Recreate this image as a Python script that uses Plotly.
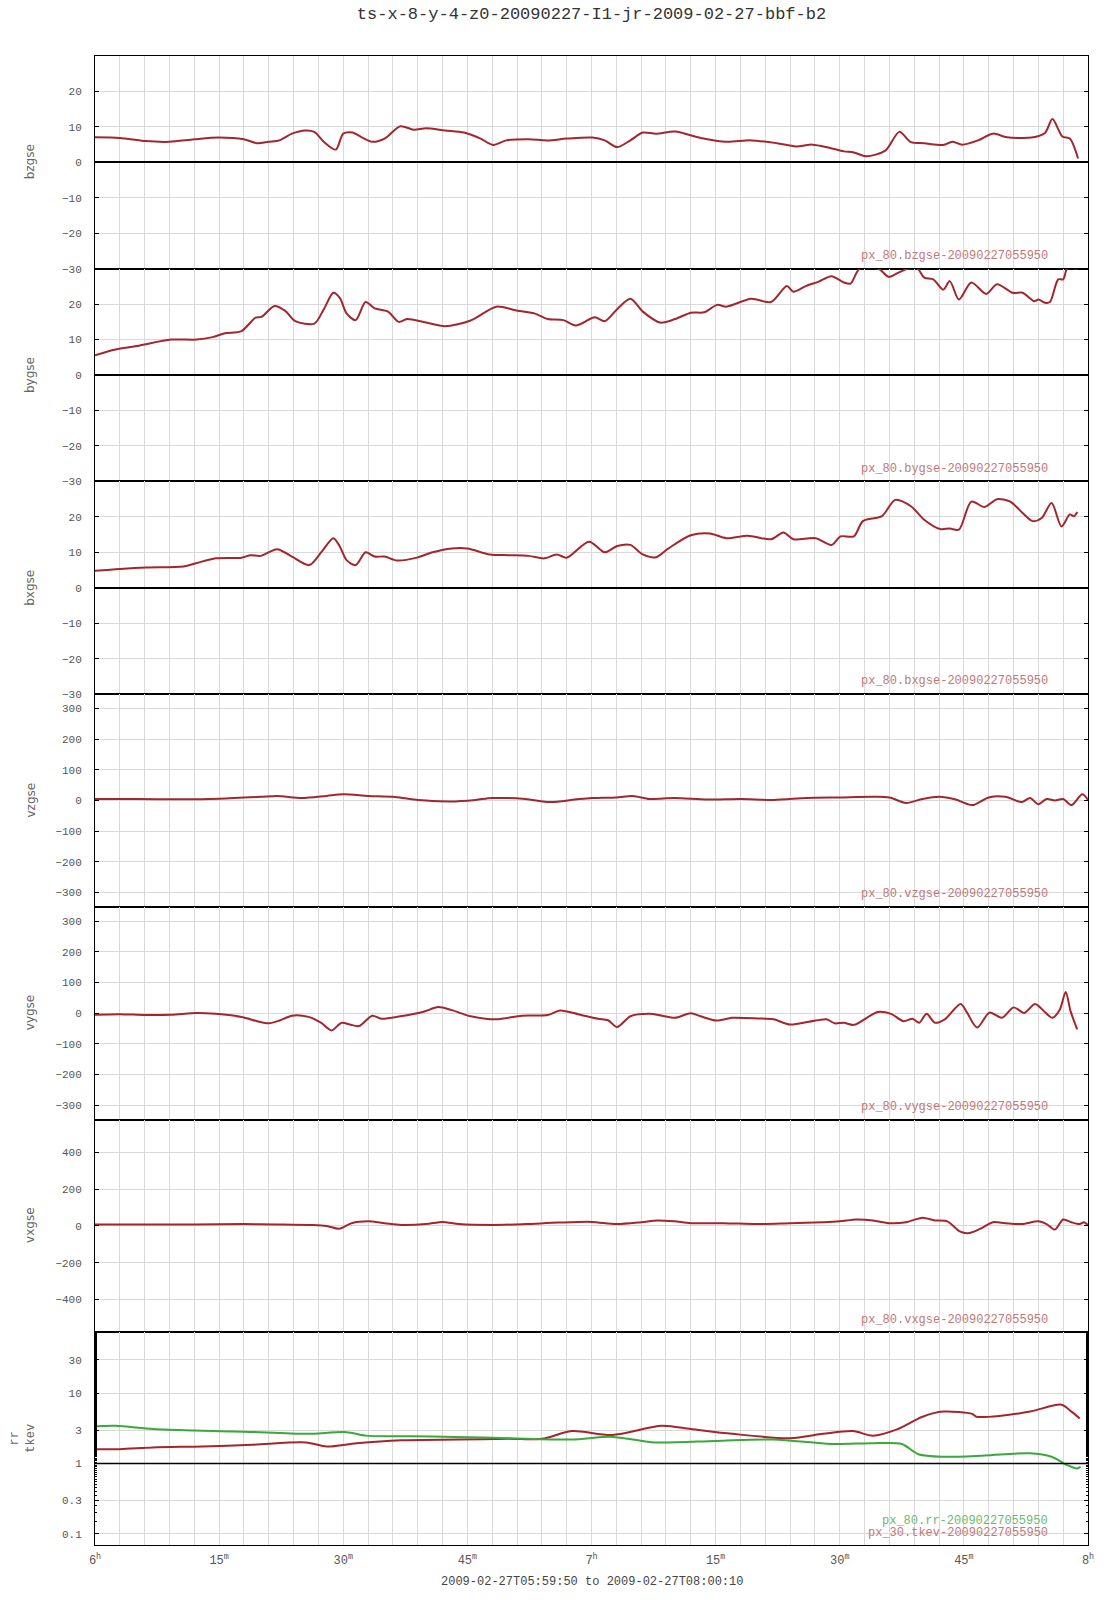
import plotly.graph_objects as go
from plotly.subplots import make_subplots

# ---------------- data (time in minutes after 06:00 UT) ----------------
bz_t = [0, 3.0, 6.1, 9.0, 12.0, 15.0, 18.0, 19.6, 21.0, 22.3, 23.8, 25.4, 26.5, 27.7, 29.1, 30.0, 31.1,
        32.3, 33.5, 35.0, 36.9, 38.5, 40.0, 42.3, 44.6, 46.6, 48.1, 49.7, 52.4, 54.7, 57.0, 60.1, 61.6,
        63.1, 64.7, 66.2, 67.8, 70.1, 73.2, 76.3, 79.3, 82.4, 84.7, 86.7, 88.6, 90.5, 91.7, 93.2, 95.5,
        97.2, 98.6, 100.2, 102.5, 103.6, 104.8, 106.7, 108.5, 110.2, 113.2, 114.8, 115.7, 116.9, 117.8, 118.8]
bz_v = [7.1, 6.9, 6.0, 5.8, 6.5, 7.0, 6.5, 5.4, 5.8, 6.2, 8.1, 9.0, 8.6, 5.7, 3.6, 8.1, 8.4,
        7.0, 5.8, 6.7, 10.2, 9.2, 9.6, 9.0, 8.4, 6.7, 4.9, 6.2, 6.5, 6.2, 6.7, 7.0, 6.2,
        4.3, 6.2, 8.4, 8.1, 8.7, 6.9, 5.8, 6.2, 5.4, 4.5, 5.0, 4.2, 3.1, 2.8, 1.7, 3.3,
        8.6, 5.7, 5.4, 4.9, 5.8, 5.0, 6.2, 8.1, 7.1, 7.0, 8.3, 12.2, 7.3, 6.7, 1.1]

by_t = [0, 2.2, 5.3, 9.2, 12.3, 14.2, 15.7, 17.7, 19.4, 20.1, 21.7, 23.0, 24.2, 26.5, 27.7, 28.8,
        29.6, 30.4, 31.5, 32.7, 33.8, 35.4, 36.7, 37.7, 40.0, 42.3, 45.4, 48.5, 50.8, 53.1, 54.7,
        56.6, 58.1, 60.4, 61.6, 63.1, 64.7, 66.2, 68.3, 70.1, 72.0, 73.6, 75.2, 76.3, 79.3, 81.7,
        83.6, 84.4, 85.9, 87.4, 89.0, 90.5, 91.3, 92.4, 94.7, 95.9, 97.1, 98.2, 99.4, 100.2, 101.3,
        102.5, 103.3, 104.4, 105.9, 107.7, 109.0, 110.9, 112.1, 113.5, 114.0, 114.8, 115.4, 116.4,
        117.0, 117.5, 118.7]
by_v = [5.6, 7.1, 8.3, 10.0, 10.0, 10.7, 11.8, 12.4, 16.2, 16.4, 19.5, 18.1, 15.2, 14.5, 18.8, 23.2,
        21.7, 17.4, 15.5, 20.6, 18.8, 17.9, 15.0, 15.8, 14.8, 13.8, 15.4, 19.3, 18.3, 17.4, 15.8,
        15.5, 14.0, 16.3, 15.2, 18.6, 21.5, 17.9, 14.8, 15.8, 17.6, 17.7, 19.8, 19.3, 21.5, 20.6,
        25.1, 23.5, 25.1, 26.3, 27.9, 26.1, 25.8, 30.0, 30.0, 27.7, 28.9, 30.0, 30.0, 27.5, 27.0,
        24.1, 26.5, 21.3, 26.1, 22.9, 25.6, 23.2, 23.2, 20.8, 21.3, 20.4, 20.6, 27.0,
        27.0, 30.0, 30.0]

bx_t = [0, 3.0, 6.1, 10.7, 12.3, 14.6, 17.7, 18.8, 20.0, 22.0, 23.8, 25.9, 27.4, 28.8, 29.6, 30.4,
        31.5, 32.7, 33.8, 35.0, 36.5, 38.9, 40.8, 43.1, 45.0, 47.7, 50.0, 52.4, 54.3, 55.8, 57.0,
        59.7, 61.6, 63.1, 64.7, 66.2, 67.8, 69.3, 72.0, 74.3, 76.3, 78.9, 81.7, 83.2, 84.4, 87.1,
        89.0, 90.1, 91.7, 92.8, 95.1, 96.7, 98.6, 100.2, 102.1, 103.3, 104.4, 105.9, 107.5, 109.0,
        110.6, 112.1, 113.3, 114.4, 115.6, 116.8, 117.8, 118.3, 118.7]
bx_v = [4.8, 5.3, 5.7, 6.0, 7.0, 8.3, 8.5, 9.2, 9.0, 10.9, 8.8, 6.4, 10.2, 14.0, 11.6, 7.8,
        6.4, 10.0, 8.8, 8.8, 7.7, 8.5, 10.0, 11.1, 11.1, 9.4, 9.2, 9.0, 8.3, 9.4, 8.5,
        13.0, 10.0, 11.8, 12.1, 9.4, 8.6, 11.1, 14.8, 15.3, 14.0, 14.7, 13.7, 15.6, 13.7, 14.0,
        12.1, 14.5, 14.5, 18.8, 20.2, 24.8, 23.0, 19.2, 16.6, 16.7, 16.4, 24.3, 22.8, 25.0,
        24.3, 21.1, 18.8, 19.7, 23.9, 17.3, 20.7, 20.2, 21.4]

vz_t = [0, 5, 10, 15, 20, 22, 25, 28, 30, 33, 36, 38, 40, 43, 46, 48, 52, 55, 58, 60, 63, 65, 67,
        70, 74, 78, 82, 86, 90, 94, 96, 98, 100, 102, 104, 106, 108, 110, 112, 113, 114, 115, 116,
        117, 118, 119.3, 120]
vz_v = [5, 5, 4, 6, 12, 15, 8, 15, 20, 15, 12, 5, 0, -3, 2, 8, 5, -5, 3, 8, 10, 15, 5,
        8, 3, 5, 2, 8, 10, 12, 10, -8, 5, 12, 3, -15, 10, 12, -5, 8, -12, 5, 0,
        5, -15, 20, 2]

vy_t = [0, 3.0, 6.1, 9.2, 12.3, 14.6, 17.7, 19.6, 21.0, 22.3, 23.8, 25.8, 27.3, 28.6, 29.8, 30.8,
        31.9, 33.5, 34.6, 36.9, 39.6, 41.5, 43.1, 45.4, 48.5, 51.6, 54.7, 56.2, 58.5, 60.8, 62.0,
        63.1, 64.7, 67.0, 68.5, 70.1, 72.0, 73.2, 75.1, 77.0, 80.1, 82.0, 84.0, 86.3, 88.4, 89.4,
        90.5, 91.7, 94.6, 96.2, 97.7, 98.8, 99.6, 100.5, 101.5, 102.7, 104.6, 105.4, 106.6, 108.1,
        109.6, 111.0, 112.3, 113.6, 114.9, 115.7, 116.6, 117.3, 117.9, 118.7]
vy_v = [-5, -3, -6, -5, 1, -2, -12, -26, -33, -24, -8, -12, -31, -56, -31, -37,
        -42, -8, -18, -10, 4, 20, 10, -10, -20, -8, -6, 9, -4, -18, -23,
        -45, -10, -2, -8, -15, 0, -10, -24, -15, -17, -20, -37, -28, -20, -33,
        -31, -38, 4, -2, -26, -18, -31, -2, -31, -20, 30, 1, -47, 2,
        -15, 19, 1, 30, 1, -15, 12, 69, 6, -53]

vx_t = [0, 6, 12, 18, 22, 26, 28, 29.5, 31, 33, 35, 37, 40, 42, 44, 48, 52, 56, 60, 63, 66, 68,
        70, 72, 76, 80, 84, 88, 90, 92, 94, 96, 98, 100, 101.5, 103, 104.5, 105.5, 107, 108.5,
        110, 112, 114, 115, 116, 117, 118, 119, 119.5, 120]
vx_v = [8, 8, 8, 10, 8, 5, 0, -15, 15, 25, 15, 5, 10, 22, 10, 5, 10, 18, 22, 10, 20, 30,
        25, 15, 15, 10, 15, 20, 25, 35, 30, 15, 20, 45, 30, 25, -30, -40, -15, 20,
        15, 10, 25, 10, -20, 35, 20, 10, 20, 5]

rr_t = [0, 2.5, 7.0, 12.0, 18.0, 25.5, 30.4, 32.8, 38.0, 43.5, 50.0, 57.6, 62.5, 67.5, 75.0,
        82.0, 89.0, 94.0, 97.5, 99.5, 102.5, 107.5, 113.0, 115.6, 117.5, 118.7, 119.1]
rr_v = [3.4, 3.45, 3.1, 2.95, 2.85, 2.65, 2.8, 2.5, 2.45, 2.4, 2.3, 2.2, 2.4, 2.0, 2.1,
        2.2, 1.9, 1.95, 1.9, 1.36, 1.25, 1.3, 1.4, 1.25, 0.95, 0.85, 0.9]

tk_t = [0, 3.0, 7.0, 13.0, 19.0, 25.5, 28.0, 31.6, 37.0, 44.0, 50.0, 54.0, 57.6, 62.5, 68.5,
        72.0, 77.0, 84.0, 88.0, 91.6, 94.0, 97.0, 100.0, 102.5, 106.0, 106.5, 109.5, 113.0,
        116.8, 118.0, 119.0]
tk_v = [1.6, 1.6, 1.7, 1.75, 1.85, 2.0, 1.75, 1.95, 2.15, 2.2, 2.25, 2.25, 2.9, 2.55, 3.45,
        3.1, 2.65, 2.3, 2.65, 2.9, 2.5, 3.1, 4.65, 5.5, 5.1, 4.65, 4.8, 5.5,
        6.9, 5.5, 4.4]

x_tickvals = [0, 15, 30, 45, 60, 75, 90, 105, 120]
x_ticktext = ["6<sup>h</sup>", "15<sup>m</sup>", "30<sup>m</sup>", "45<sup>m</sup>", "7<sup>h</sup>",
              "15<sup>m</sup>", "30<sup>m</sup>", "45<sup>m</sup>", "8<sup>h</sup>"]

panel_names = ["bzgse", "bygse", "bxgse", "vzgse", "vygse", "vxgse"]
panel_data = [(bz_t, bz_v), (by_t, by_v), (bx_t, bx_v), (vz_t, vz_v), (vy_t, vy_v), (vx_t, vx_v)]
panel_ranges = [[-30, 30], [-30, 30], [-30, 30], [-347, 347], [-347, 347], [-578, 578]]
panel_ticks = [[-30, -20, -10, 0, 10, 20], [-30, -20, -10, 0, 10, 20], [-30, -20, -10, 0, 10, 20],
               [-300, -200, -100, 0, 100, 200, 300], [-300, -200, -100, 0, 100, 200, 300],
               [-400, -200, 0, 200, 400]]
log_ticks = [0.1, 0.3, 1, 3, 10, 30]
log_ticktext = ["0.1", "0.3", "1", "3", "10", "30"]

RED = "#a3262c"
GREEN = "#3aa83a"
LBL_RED = "#c07878"
LBL_GREEN = "#6cba6c"
GRID = "#d9d9d9"
MONO = "Liberation Mono, Courier New, monospace"
SANS = "DejaVu Sans, sans-serif"

fig = make_subplots(rows=7, cols=1, shared_xaxes=True, vertical_spacing=0)

for i, ((t, v), name) in enumerate(zip(panel_data, panel_names)):
    r = i + 1
    fig.add_trace(go.Scatter(x=t, y=v, mode="lines", line=dict(color=RED, width=2, shape="spline", smoothing=0.8),
                             showlegend=False, hoverinfo="skip"), row=r, col=1)
    fig.update_yaxes(range=panel_ranges[i], tickvals=panel_ticks[i],
                     zeroline=(i < 3), zerolinecolor="black", zerolinewidth=1.5, row=r, col=1)
    fig.add_annotation(text="px_80." + name + "-20090227055950", xref="x domain", yref="y domain",
                       x=0.962, y=0.06, xanchor="right", yanchor="middle", showarrow=False,
                       font=dict(family=MONO, size=12, color=LBL_RED), row=r, col=1)
    fig.add_annotation(text=name, xref="paper", yref="y domain", x=0, y=0.5, xshift=-65,
                       textangle=-90, showarrow=False, font=dict(family=SANS, size=12, color="#666"),
                       row=r, col=1)

# bottom log panel
fig.add_trace(go.Scatter(x=tk_t, y=tk_v, mode="lines", line=dict(color=RED, width=2, shape="spline", smoothing=0.8),
                         showlegend=False, hoverinfo="skip"), row=7, col=1)
fig.add_trace(go.Scatter(x=rr_t, y=rr_v, mode="lines", line=dict(color=GREEN, width=2, shape="spline", smoothing=0.8),
                         showlegend=False, hoverinfo="skip"), row=7, col=1)
fig.add_trace(go.Scatter(x=[0, 120], y=[1, 1], mode="lines", line=dict(color="black", width=1.5),
                         showlegend=False, hoverinfo="skip"), row=7, col=1)
fig.update_yaxes(type="log", range=[-1.16, 1.87], tickvals=log_ticks, ticktext=log_ticktext,
                 minor=dict(ticks="inside", ticklen=2, tickwidth=1, tickcolor="black", showgrid=False),
                 row=7, col=1)
fig.add_annotation(text="px_80.rr-20090227055950", xref="x domain", yref="y domain", x=0.962, y=0.113,
                   xanchor="right", yanchor="middle", showarrow=False,
                   font=dict(family=MONO, size=12, color=LBL_GREEN), row=7, col=1)
fig.add_annotation(text="px_30.tkev-20090227055950", xref="x domain", yref="y domain", x=0.962, y=0.056,
                   xanchor="right", yanchor="middle", showarrow=False,
                   font=dict(family=MONO, size=12, color=LBL_RED), row=7, col=1)
fig.add_annotation(text="rr<br>tkev", xref="paper", yref="y7 domain", x=0, y=0.5, xshift=-89,
                   textangle=-90, showarrow=False, font=dict(family=MONO, size=12, color="#666"))

fig.update_yaxes(showgrid=True, gridcolor=GRID, gridwidth=1, showline=True, linecolor="black", linewidth=1,
                 mirror="ticks", ticks="inside", ticklen=4, tickwidth=1, tickcolor="black",
                 ticklabelstandoff=10, tickfont=dict(family=MONO, size=11, color="#555"))
fig.update_xaxes(range=[0, 120], tickvals=x_tickvals, ticktext=x_ticktext, showgrid=True, gridcolor=GRID,
                 minor=dict(dtick=3, showgrid=True, gridcolor=GRID, tick0=0),
                 showline=True, linecolor="black", linewidth=1, mirror=True, ticks="",
                 ticklabelstandoff=4,
                 tickfont=dict(family=MONO, size=12, color="#555"), zeroline=False)

fig.add_annotation(text="2009-02-27T05:59:50 to 2009-02-27T08:00:10", xref="paper", yref="paper",
                   x=0.5, y=0, yshift=-28, yanchor="top", showarrow=False,
                   font=dict(family=MONO, size=12, color="#444"))

fig.update_layout(
    width=1107, height=1600,
    margin=dict(l=95, r=19, t=56, b=55),
    paper_bgcolor="white", plot_bgcolor="white",
    title=dict(text="ts-x-8-y-4-z0-20090227-I1-jr-2009-02-27-bbf-b2", x=0.5, xref="paper", y=1, yref="container",
               yanchor="top", pad=dict(t=7), font=dict(family=MONO, size=17, color="#333")),
)

fig.write_html("out.html", config={"displayModeBar": False},
               post_script="document.body.style.margin='0';")
